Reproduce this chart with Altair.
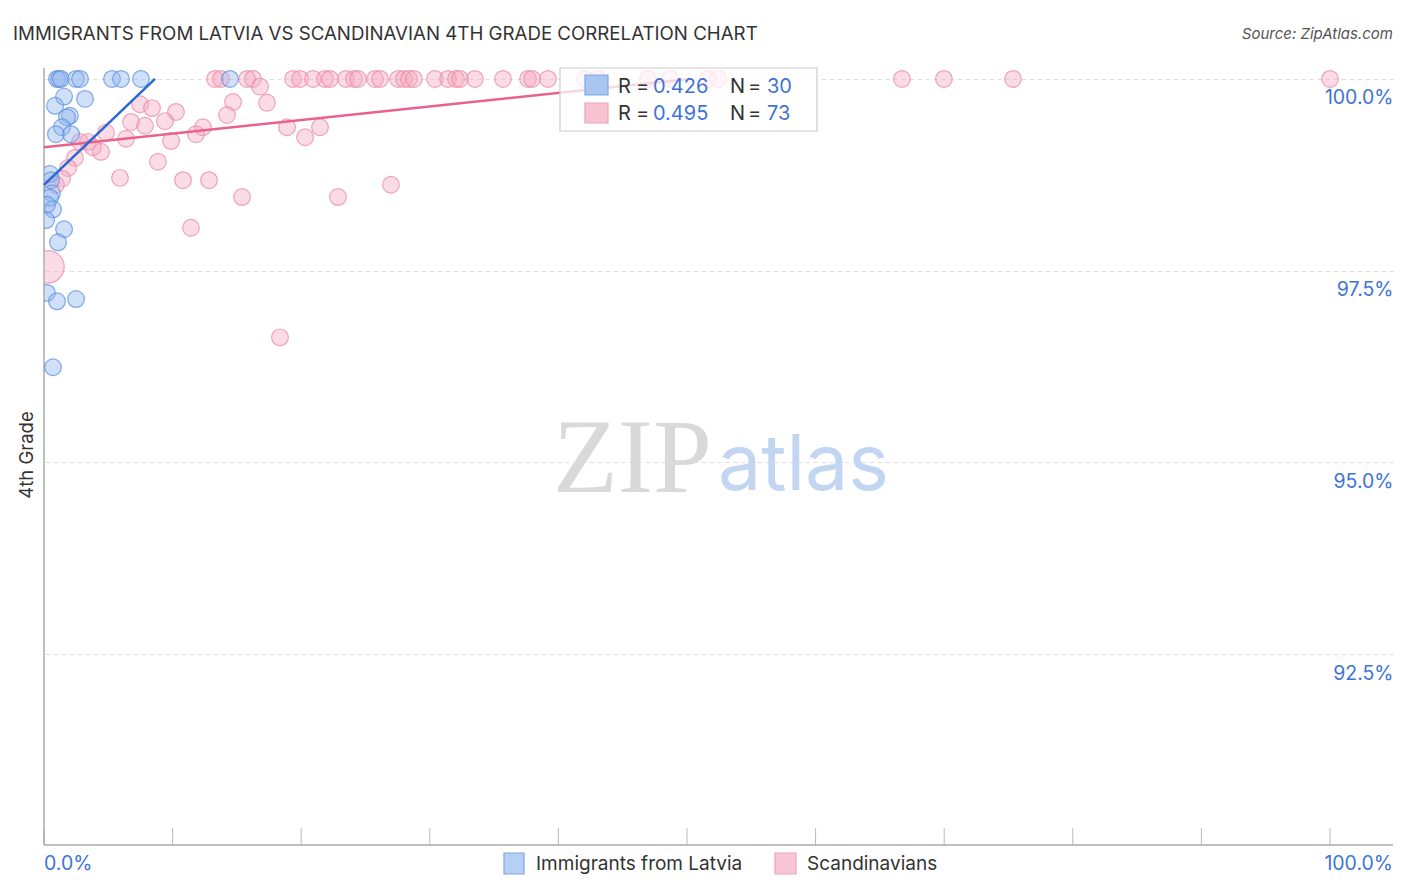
import altair as alt
import pandas as pd

# ---------------- data ----------------
latvia_x = [1.01, 1.17, 1.32, 2.49, 2.80, 5.29, 5.99, 7.54, 14.46, 1.56,
            3.19, 0.86, 2.02, 1.79, 1.40, 0.93, 2.10, 0.47, 0.54, 0.62,
            0.47, 0.70, 0.23, 0.16, 1.56, 1.09, 0.23, 1.01, 2.49, 0.70]
latvia_y = [100.0, 100.0, 100.0, 100.0, 100.0, 100.0, 100.0, 100.0, 100.0, 99.77,
            99.74, 99.65, 99.52, 99.50, 99.37, 99.28, 99.28, 98.76, 98.68, 98.51,
            98.45, 98.30, 98.36, 98.16, 98.04, 97.87, 97.21, 97.10, 97.13, 96.24]

scand_top_x = [13.30, 13.76, 15.79, 16.25, 19.36, 19.91, 20.92, 21.85, 22.24, 23.48,
               24.11, 24.42, 25.74, 26.13, 27.53, 27.99, 28.38, 28.77, 30.40, 31.42,
               32.04, 32.35, 33.51, 35.69, 37.64, 37.95, 39.19, 42.07, 43.08, 46.97,
               48.68, 51.63, 52.41, 66.72, 69.98, 75.35, 100.0]
scand_rest_x = [16.80, 14.70, 17.34, 14.23, 7.47, 8.40, 10.26, 6.77, 7.85, 9.41,
                4.82, 6.38, 9.88, 11.82, 12.36, 18.90, 20.30, 21.46, 2.80, 3.42,
                3.81, 4.43, 2.41, 1.87, 1.40, 8.86, 5.91, 10.81, 12.83, 0.93,
                0.31, 15.40, 22.86, 26.98, 11.43, 18.35]
scand_rest_y = [99.90, 99.70, 99.69, 99.53, 99.67, 99.62, 99.57, 99.44, 99.39, 99.45,
                99.30, 99.22, 99.19, 99.28, 99.37, 99.37, 99.24, 99.37, 99.18, 99.18,
                99.11, 99.05, 98.97, 98.84, 98.70, 98.92, 98.71, 98.68, 98.68, 98.62,
                97.55, 98.46, 98.46, 98.62, 98.06, 96.63]
scand_x = scand_top_x + scand_rest_x
scand_y = [100.0] * len(scand_top_x) + scand_rest_y
scand_big = [0] * len(scand_x)
scand_big[len(scand_top_x) + 30] = 1  # the one large bubble

# regression lines (endpoints)
fit_latvia_x = [0.0, 8.63]
fit_latvia_y = [98.62, 100.0]
fit_scand_x = [0.0, 50.2]
fit_scand_y = [99.11, 100.0]

x_ticks = [0, 10, 20, 30, 40, 50, 60, 70, 80, 90, 100]
y_ticks = [92.5, 95.0, 97.5, 100.0]

SER = ["Immigrants from Latvia", "Scandinavians"]
STATS = [("0.426", "30"), ("0.495", "73")]

lat_df = pd.DataFrame({"x": latvia_x, "y": latvia_y, "s": [280] * len(latvia_x)})
sca_df = pd.DataFrame({"x": scand_x, "y": scand_y, "s": [1050 if b else 280 for b in scand_big]})

lat_fit = pd.DataFrame({"x": fit_latvia_x, "y": fit_latvia_y})
sca_fit = pd.DataFrame({"x": fit_scand_x, "y": fit_scand_y})

W, H = 1349, 777
FONT = "Inter"
BLUE_TXT = "#3d74d6"

xs = alt.Scale(domain=[0, 104.9], nice=False, zero=False)
ys = alt.Scale(domain=[90.01, 100.143], nice=False, zero=False)

yaxis = alt.Axis(
    orient="right", values=y_ticks, labelExpr="format(datum.value, '.1f') + '%'",
    grid=True, gridDash=[4, 4], gridColor="#dddddd", domain=False, ticks=False,
    labelAlign="right", labelPadding=0, labelOffset=19, labelFontSize=19.5,
    labelColor=BLUE_TXT, labelFont=FONT, title=None)

X = alt.X("x:Q", scale=xs, axis=None)
Y = alt.Y("y:Q", scale=ys, axis=yaxis)

one = pd.DataFrame({"a": [1]})


def pts_layer(df, fill, stroke):
    return alt.Chart(df).mark_circle(fill=fill, stroke=stroke, fillOpacity=0.42, strokeOpacity=0.75,
                                     strokeWidth=1.2, clip=True, opacity=1).encode(
        x=X, y=Y, size=alt.Size("s:Q", scale=None))


pts_s = pts_layer(sca_df, "#f5a9c0", "#e98aa8")
pts_l = pts_layer(lat_df, "#8fb6ee", "#5b8fe0")

line_s = alt.Chart(sca_fit).mark_line(color="#e8628c", strokeWidth=2.5).encode(x=X, y=Y)
line_l = alt.Chart(lat_fit).mark_line(color="#2a68d4", strokeWidth=2.5).encode(x=X, y=Y)

tick_df = pd.DataFrame({"x": x_ticks})
xticks = alt.Chart(tick_df).mark_rule(color="#bbbbbb", strokeWidth=1).encode(
    x=X, y=alt.value(H - 17), y2=alt.value(H))

frame_bottom = alt.Chart(one).mark_rule(color="#aaaaaa", strokeWidth=1.5).encode(
    x=alt.value(0), x2=alt.value(W), y=alt.value(H))
frame_left = alt.Chart(one).mark_rule(color="#aaaaaa", strokeWidth=1.5).encode(
    x=alt.value(0), y=alt.value(0), y2=alt.value(H))


def txt(text, x, y, size=18, color="#333333", align="left", font=FONT, style="normal",
        angle=0, baseline="middle"):
    return alt.Chart(one).mark_text(text=text, align=align, baseline=baseline, fontSize=size,
                                    color=color, font=font, fontStyle=style, angle=angle).encode(
        x=alt.value(x), y=alt.value(y))


def box(x1, x2, y1, y2, fill, stroke, fo=1.0):
    return alt.Chart(one).mark_rect(fill=fill, fillOpacity=fo, stroke=stroke, strokeWidth=1.2).encode(
        x=alt.value(x1), x2=alt.value(x2), y=alt.value(y1), y2=alt.value(y2))


# watermark
wm_zip = txt("ZIP", 553 - 44, 492 - 68, size=106, color="#d9d9d9", font="Liberation Serif",
             baseline="alphabetic")
wm_atlas = txt("atlas", 718 - 44, 490 - 68, size=77, color="#c2d6f1", font=FONT,
               baseline="alphabetic")

# stats legend box
stat_box = box(516, 773, 0, 63, "white", "#cccccc", 0.75)
sq1 = box(541, 564, 7, 27, "#a9c6f0", "#7ea6e6")
sq2 = box(541, 564, 35, 55, "#f8c3d2", "#eea3ba")

LS = 20
leg_texts = []
for row, (r, n) in zip([19, 46], STATS):
    leg_texts += [
        txt("R", 574, row, size=LS), txt("=", 592, row, size=LS),
        txt(r, 609, row, size=LS, color=BLUE_TXT),
        txt("N", 686, row, size=LS), txt("=", 704, row, size=LS),
        txt(n, 723, row, size=LS, color=BLUE_TXT),
    ]

# bottom legend
bsq1 = box(504 - 44, 524 - 44, 853 - 68, 874 - 68, "#b6d0f4", "#7ea6e6")
bsq2 = box(775 - 44, 796 - 44, 853 - 68, 874 - 68, "#f9c6d5", "#eea3ba")
bl1 = txt(SER[0], 536 - 44, 864 - 68, size=19)
bl2 = txt(SER[1], 807 - 44, 864 - 68, size=19)

title = txt("IMMIGRANTS FROM LATVIA VS SCANDINAVIAN 4TH GRADE CORRELATION CHART", -31, -34,
            size=18.7, color="#333333")
source = txt("Source: ZipAtlas.com", W, -34, size=15, color="#555555", align="right", style="italic")
ytitle = txt("4th Grade", -17, 387, size=18.5, color="#333333", align="center", angle=270)
xl0 = txt("0.0%", 0, 796, size=19.5, color=BLUE_TXT)
xl1 = txt("100.0%", W, 796, size=19.5, color=BLUE_TXT, align="right")

chart = alt.layer(
    wm_zip, wm_atlas, xticks, frame_bottom, frame_left, pts_s, pts_l, line_s, line_l,
    stat_box, sq1, sq2, *leg_texts, bsq1, bsq2, bl1, bl2, title, source, ytitle, xl0, xl1
).properties(
    width=W, height=H,
    autosize=alt.AutoSizeParams(type="none"),
    padding={"left": 36, "top": 60, "right": 5, "bottom": 60},
).configure_view(stroke=None)

chart.save("out.html", embed_options={"renderer": "svg", "actions": False})
